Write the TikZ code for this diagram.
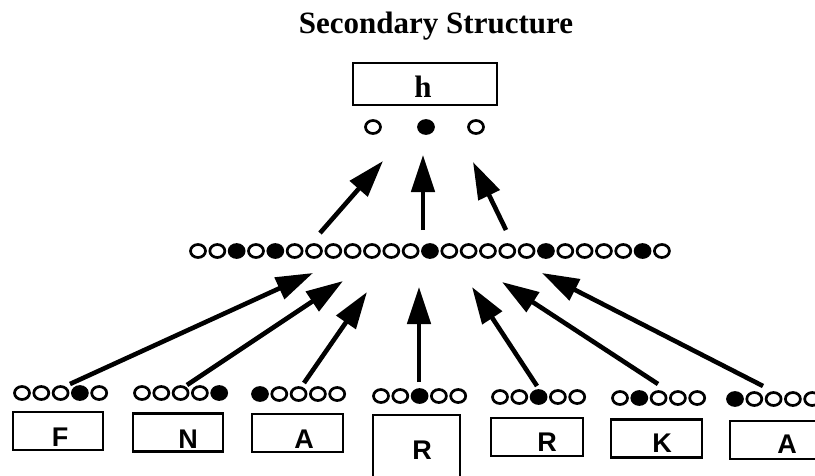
\documentclass[tikz,border=0pt]{standalone}
\usepackage{fontspec}
\setmainfont{Liberation Serif}
\setsansfont{Liberation Sans}
\usepackage{tikz}
\usetikzlibrary{positioning, arrows.meta, shapes.geometric}
\tikzset{
  unit/.style={ellipse, draw, line width=2.7pt, minimum width=15pt,
    minimum height=13pt, inner sep=0pt},
  unit0/.style={unit, fill=white},
  unit1/.style={unit, fill=black},
  resbox/.style={draw, line width=2.2pt, minimum width=90pt, minimum height=38pt,
    inner sep=0pt},
  reslabel/.style={font=\sffamily\bfseries\fontsize{27}{27}\selectfont, anchor=base},
  toplabel/.style={font=\bfseries\fontsize{31}{31}\selectfont, anchor=base},
  feed/.style={line width=4.6pt, -{Triangle[length=37pt, width=23pt]}},
}

\begin{document}
\begin{tikzpicture}[x=1pt, y=-1pt]
  \useasboundingbox (0,0) rectangle (815,475);
  \clip (0,0) rectangle (815,475);
  % title
  \node[toplabel] (ttl) at (436,33) {Secondary Structure};
  % output
  \node[resbox, minimum width=144pt, minimum height=42pt] (boxh) at (425,84) {};
  \node[toplabel] (lblh) at (423,97) {h};
  \node[unit0] (o1) at (373,127) {};
  \node[unit1] (o2) at (426,127) {};
  \node[unit0] (o3) at (476,127) {};
  % hidden layer
  \foreach \s [count=\i] in {0,0,1,0,1,0,0,0,0,0,0,0,1,0,0,0,0,0,1,0,0,0,0,1,0}
    \node[unit\s] (m\i) at ({198+19.33*(\i-1)},251) {};
  % input windows
  \foreach \g/\x/\y/\pat in {1/22/393/{0,0,0,1,0}, 2/142/393/{0,0,0,0,1},
      3/260/394/{1,0,0,0,0}, 4/381/396/{0,0,1,0,0}, 5/500/397/{0,0,1,0,0},
      6/620/398/{0,1,0,0,0}, 7/735/399/{1,0,0,0,0}}
    \foreach \s [count=\i] in \pat
      \node[unit\s] (in\g-\i) at ({\x+19.3*(\i-1)},\y) {};
  % residues
  \node[resbox] (box1) at (58,431) {};
  \node[resbox] (box2) at (178,432.5) {};
  \node[resbox, minimum width=91pt] (box3) at (297.5,433) {};
  \node[resbox, minimum width=87pt, minimum height=90pt] (box4) at (416.5,460) {};
  \node[resbox, minimum width=92pt] (box5) at (537,437) {};
  \node[resbox, minimum width=91pt] (box6) at (656.5,438.5) {};
  \node[resbox] (box7) at (775,440) {};
  \node[reslabel] (res1) at (60,446) {F};
  \node[reslabel] (res2) at (188,448) {N};
  \node[reslabel] (res3) at (304,448.5) {A};
  \node[reslabel] (res4) at (422,459) {R};
  \node[reslabel] (res5) at (547,451) {R};
  \node[reslabel] (res6) at (662,452) {K};
  \node[reslabel] (res7) at (787,453) {A};
  % connections
  \foreach \n/\a/\b/\c/\d in {a1/320/233/383/161, a2/423/230/423/155,
      a3/506/230/473/162, b1/70/384/313/273, b2/187/385/343/281,
      b3/304/383/367/292, b4/419/382/419/287, b5/537/386/472/287,
      b6/658/384/502/282, b7/763/386/542/273} {
    \coordinate (\n-s) at (\a,\b);
    \coordinate (\n-e) at (\c,\d);
    \draw[feed] (\n-s) -- (\n-e);
  }
\end{tikzpicture}
\end{document}
